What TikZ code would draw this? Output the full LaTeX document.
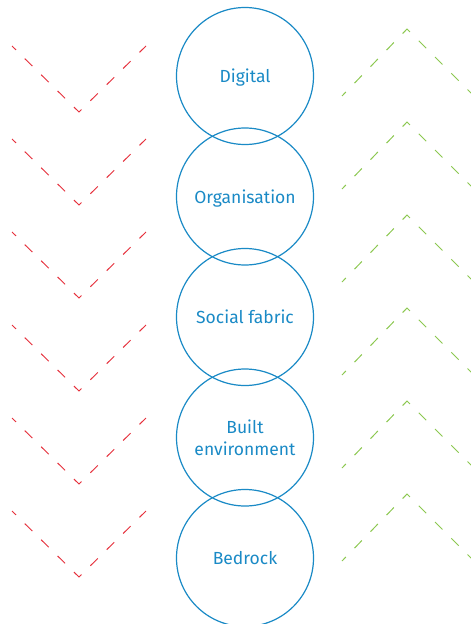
\documentclass[tikz,border=0pt]{standalone}
\usepackage{fontspec}
\setmainfont{Fira Sans}
\usepackage{tikz}
\usetikzlibrary{positioning}

\definecolor{layerblue}{HTML}{1A8AC6}
\definecolor{downred}{HTML}{E6303C}
\definecolor{upgreen}{HTML}{8CC850}

\tikzset{
  layer/.style = {circle, draw = layerblue, line width = 1.2pt, minimum size = 137pt,
                  inner sep = 0pt, text = layerblue, align = center, text depth = 0pt,
                  font = \fontsize{17.5}{22}\selectfont},
  chevron/.style = {line width = 1pt, dash pattern = on 10.5pt off 12.5pt, dash phase = 5pt},
}

\begin{document}
\begin{tikzpicture}[x = 1pt, y = -1pt]
                                    \clip (0,0) rectangle (471,624);
                                    \fill [white] (0,0) rectangle (471,624);
                                    % chevrons
                                    \foreach \k in {0,...,5}{
                                    \draw [chevron, downred] (12,{46+93*\k}) -- (79,{112+93*\k}) -- (146,{46+93*\k});
                                    \draw [chevron, upgreen] (342,{96+93*\k}) -- (407,{29+93*\k}) -- (473,{95+93*\k});
                                    }
                                    % layers
                                    \node [layer] (digital) at (245,76) {Digital};
                                    \node [layer, below = -17.7pt of digital] (organisation) {Organisation};
                                    \node [layer, below = -17.7pt of organisation] (social) {Social fabric};
                                    \node [layer, below = -17.7pt of social] (built) {Built\\environment};
                                    \node [layer, below = -17.7pt of built] (bedrock) {Bedrock};
                                \end{tikzpicture}
\end{document}
